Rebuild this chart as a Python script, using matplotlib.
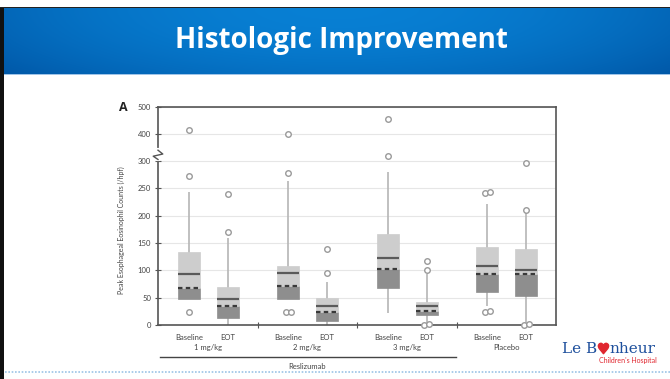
import numpy as np
import matplotlib.pyplot as plt
from matplotlib.patches import Rectangle
from matplotlib.transforms import blended_transform_factory

# valores por grupo: 1, 2, 3 mg/kg e placebo, baseline / EOT
grupos = ["1 mg/kg", "2 mg/kg", "3 mg/kg", "Placebo"]
momentos = ["Baseline", "EOT"]
q1 = [48, 13, 48, 8, 67, 18, 60, 54]
mediana = [68, 35, 72, 24, 102, 26, 93, 93]
media = [93, 48, 96, 35, 123, 35, 108, 100]
q3 = [134, 70, 108, 50, 166, 43, 143, 140]
bigode_min = [48, 0, 48, 0, 22, 0, 34, 0]
bigode_max = [244, 160, 264, 78, 281, 93, 222, 205]
outliers = [[415, 272, 23], [240, 170], [400, 279, 24, 24], [139, 95],
            [455, 320], [117, 101, 2, 0], [244, 242, 26, 24], [296, 211, 2, 0]]
yticks = [0, 50, 100, 150, 200, 250, 300, 400, 500]


def escala(v):
    # eixo quebrado: acima de 300 comprime pela metade
    v = np.asarray(v, dtype=float)
    return np.where(v <= 300, v, 300 + (v - 300) / 2)


plt.rcParams['font.family'] = ['Lato', 'DejaVu Sans']
fig = plt.figure(figsize=(6.7, 3.79), dpi=100)
fig.patch.set_facecolor('white')

# cabecalho azul com gradiente
hax = fig.add_axes([4 / 670, 1 - 74 / 379, 666 / 670, 67 / 379])
gx = np.linspace(-1, 1, 400)
gy = np.linspace(0, 1, 60)
X, Y = np.meshgrid(gx, gy)
t = np.clip(0.55 * np.abs(X) ** 2 + 0.35 * Y ** 2, 0, 1)
centro = np.array([0.03, 0.50, 0.83])
borda = np.array([0.00, 0.33, 0.64])
img = centro * (1 - t[..., None]) + borda * t[..., None]
hax.imshow(img, aspect='auto', extent=[0, 1, 0, 1])
hax.set_xlim(0, 1)
hax.set_ylim(0, 1)
hax.axis('off')
hax.text(0.506, 0.5, "Histologic Improvement", color='white', fontsize=20,
         fontweight='bold', ha='center', va='center', family='Open Sans')

# bordas pretas do slide
fig.add_artist(Rectangle((0, 0), 4 / 670, 1 - 7 / 379, transform=fig.transFigure,
                         color='#111111', lw=0))
fig.add_artist(Rectangle((0, 1 - 8 / 379), 1, 1.5 / 379, transform=fig.transFigure,
                         color='#222222', lw=0))
fig.add_artist(Rectangle((4 / 670, 1 - 75 / 379), 666 / 670, 1.5 / 379,
                         transform=fig.transFigure, color='#9fc4e8', lw=0))
# linha pontilhada inferior
fig.add_artist(plt.Line2D([5 / 670, 1], [1 - 372 / 379] * 2, transform=fig.transFigure,
                          color='#9cc3e6', lw=1.2, ls=(0, (1, 1))))

ax = fig.add_axes([158 / 670, 1 - 325 / 379, 398 / 670, 218.5 / 379])
pos = []
for g in range(len(grupos)):
    pos += [g + 0.31, g + 0.70]
pos = np.array(pos)
w = 0.22

cor_txt = '#444444'
ax.vlines(pos, escala(bigode_min), escala(bigode_max), color='#b5b5b5', lw=1.2, zorder=2)
ax.bar(pos, np.array(mediana) - np.array(q1), bottom=q1, width=w, color='#8e8e8e',
       edgecolor='#8e8e8e', lw=0.5, zorder=3)
ax.bar(pos, np.array(q3) - np.array(mediana), bottom=mediana, width=w, color='#cdcdcd',
       edgecolor='#cdcdcd', lw=0.5, zorder=3)
ax.hlines(media, pos - w / 2, pos + w / 2, color='#5a5a5a', lw=1.6, zorder=4)
ax.hlines(mediana, pos - w / 2, pos + w / 2, color='#3a3a3a', lw=1.6,
          linestyles=(0, (2, 1.5)), zorder=4)

for x, vals in zip(pos, outliers):
    vals = sorted(vals)
    i = 0
    while i < len(vals):
        j = i
        while j + 1 < len(vals) and abs(vals[j + 1] - vals[i]) < 6:
            j += 1
        n = j - i + 1
        desl = (np.arange(n) - (n - 1) / 2) * 0.05
        ax.scatter(x + desl, escala(vals[i:j + 1]), s=16, facecolor='white',
                   edgecolor='#9a9a9a', lw=1.0, zorder=5, clip_on=False)
        i = j + 1

ax.set_xlim(0, 4)
ax.set_ylim(0, 400)
ax.set_yticks(escala(yticks))
ax.set_yticklabels([str(v) for v in yticks], fontsize=5.5, color=cor_txt)
ax.set_xticks([1, 2, 3])
ax.set_xticklabels([])
ax.tick_params(axis='y', direction='inout', length=4, width=0.8, color='#555555', pad=3)
ax.tick_params(axis='x', direction='inout', length=4, width=0.8, color='#555555')
ax.grid(axis='y', color='#e6e6e6', lw=0.8)
ax.set_axisbelow(True)
for s in ax.spines.values():
    s.set_color('#555555')
    s.set_linewidth(1.2)

# marca de quebra do eixo
trans_y = ax.get_yaxis_transform()
ax.plot([0, 0], [303, 320], transform=trans_y, color='white', lw=3, clip_on=False, zorder=6)
ax.plot([0, -0.012, 0.012, 0], [303, 309, 313, 320], transform=trans_y,
        color='#555555', lw=1.0, clip_on=False, zorder=7)

ax.set_ylabel("Peak Esophageal Eosinophil Counts (/hpf)", fontsize=5, color=cor_txt)
ax.yaxis.set_label_coords(-0.083, 0.435)
ax.text(-0.088, 0.995, "A", transform=ax.transAxes, fontsize=9, fontweight='bold',
        ha='center', va='center', color='#222222', family='Open Sans')

trans = blended_transform_factory(ax.transData, ax.transAxes)
for k, x in enumerate(pos):
    ax.text(x, -0.055, momentos[k % 2], transform=trans, fontsize=5.5, color=cor_txt,
            ha='center', va='center')
for g, nome in enumerate(grupos):
    ax.text(g + 0.5, -0.105, nome, transform=trans, fontsize=5.5, color=cor_txt,
            ha='center', va='center')
ax.plot([0.02, 2.99], [-0.148, -0.148], transform=trans, color='#444444', lw=1.0,
        clip_on=False)
ax.text(1.5, -0.19, "Reslizumab", transform=trans, fontsize=5.5, color=cor_txt,
        ha='center', va='center')

# logotipo
fig.text(597 / 670, 1 - 349 / 379, "Le B", fontsize=11, color='#1d4f9c',
         family='DejaVu Serif', ha='right', va='center')
fig.add_artist(plt.Line2D([603 / 670], [1 - 348 / 379], transform=fig.transFigure,
                          marker='$\u2665$', markersize=7.5, color='#e0262f', lw=0))
fig.text(609 / 670, 1 - 349 / 379, "nheur", fontsize=11, color='#1d4f9c',
         family='DejaVu Serif', ha='left', va='center')
fig.text(657 / 670, 1 - 360 / 379, "Children's Hospital", fontsize=5, color='#e0262f',
         ha='right', va='center')

fig.savefig('out.png', dpi=100)
